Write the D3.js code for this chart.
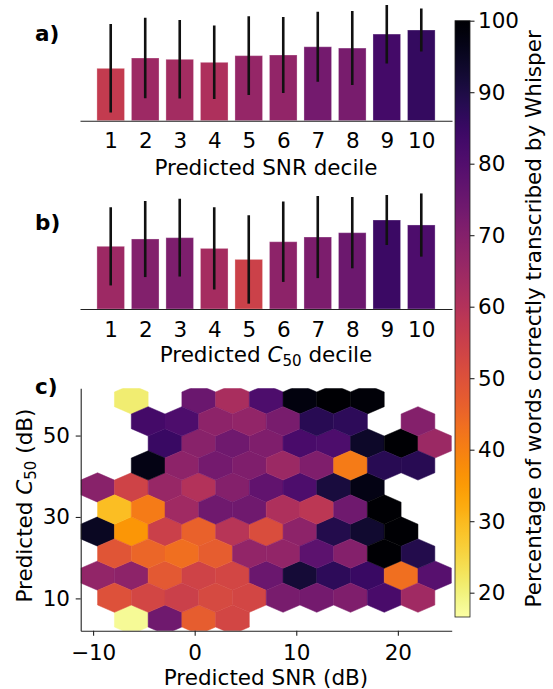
<!DOCTYPE html>
<html>
<head>
<meta charset="utf-8">
<script src="https://cdn.jsdelivr.net/npm/d3@7"></script>
<style>
body{margin:0;background:#fff}
text{font-family:"DejaVu Sans",sans-serif}
</style>
</head>
<body>
<svg id="fig" width="553" height="689"></svg>
<script>
//data
var deciles=[1,2,3,4,5,6,7,8,9,10];
var snrMean=[56.6,64.5,63.5,61.2,66.3,66.8,73.1,72.1,82.8,85.9];
var snrErr=[33.8,30.8,30.0,28.1,30.1,29.0,26.8,28.3,22.5,16.5];
var c50Mean=[64.5,70.1,71.1,62.9,54.5,68.0,71.6,74.9,84.6,80.8];
var c50Err=[29.9,29.1,29.7,31.4,33.8,30.7,31.4,27.2,19.1,24.2];
var barTop=105;

//hexbin: grid extent (dB) and cell means, rows bottom to top
var hexX=[-9.56,23.64], hexY=[4.77,58.9], nx=10, ny=5;
var gridA=[
  [null,18,74,47,53,null,null,null,null,null,null],
  [67,68,48,54,53,75,92,87,85,43,79],
  [95,36,55,46,59,51,68,89,93,100,null],
  [69,54,66,60,70,77,81,91,97,null,null],
  [null,null,85,69,74,71,82,81,94,100,65],
  [null,21,null,75,62,81,98,100,99,null,null]
];
var gridB=[
  [50,53,55,52,53,72,73,71,82,64],
  [49,45,43,47,67,67,78,70,100,89],
  [29,41,64,74,74,61,58,74,100,null],
  [null,97,68,73,71,65,71,41,88,88],
  [null,83,81,68,67,72,88,87,null,70]
];
var xTicks=[-10,0,10,20];
var yTicks=[10,30,50];
var cbTicks=[20,30,40,50,60,70,80,90,100];
var cmin=16.6, cmax=100;

var color=d3.scaleSequential(function(t){return d3.interpolateInferno(1-t);}).domain([cmin,cmax]);
var svg=d3.select("#fig");
var fs=21.5;
var ink="#222";

function styleAxis(g){
    g.selectAll("text").attr("font-size",fs).attr("fill","#000").attr("font-family","DejaVu Sans");
    g.selectAll("line,path").attr("stroke",ink).attr("stroke-width",1.1);
}

function c50Label(t){
    t.append("tspan").text("Predicted ");
    t.append("tspan").attr("font-style","italic").text("C");
    t.append("tspan").attr("font-size",fs*0.7).attr("dy",4).text("50");
    t.append("tspan").attr("dy",-4).text(" decile");
}

function barPanel(id,means,errs,top,bottom,tag,tagY,labelY,labelFn){
    var x=d3.scaleLinear().domain([0.11,10.89]).range([80,452]);
    var y=d3.scaleLinear().domain([cmin,barTop]).range([bottom,top]);
    svg.append("clipPath").attr("id",id).append("rect")
        .attr("x",80).attr("y",top).attr("width",372).attr("height",bottom-top);
    var g=svg.append("g").attr("clip-path","url(#"+id+")");
    g.selectAll("rect.bar").data(deciles).enter().append("rect")
        .attr("class","bar")
        .attr("x",function(d){return x(d-0.4);})
        .attr("width",x(0.8)-x(0))
        .attr("y",function(d,i){return y(means[i]);})
        .attr("height",function(d,i){return y(cmin)-y(means[i]);})
        .attr("fill",function(d,i){return color(means[i]);})
        .attr("stroke","#fff").attr("stroke-opacity",0.3).attr("stroke-width",1);
    g.selectAll("line.err").data(deciles).enter().append("line")
        .attr("x1",function(d){return x(d);}).attr("x2",function(d){return x(d);})
        .attr("y1",function(d,i){return y(means[i]-errs[i]);})
        .attr("y2",function(d,i){return y(means[i]+errs[i]);})
        .attr("stroke","#111").attr("stroke-width",2.6);
    var ax=svg.append("g").attr("transform","translate(0,"+bottom+")")
        .call(d3.axisBottom(x).tickValues(deciles).tickSize(0).tickSizeOuter(0).tickPadding(12.3).tickFormat(d3.format("d")));
    styleAxis(ax);
    svg.append("text").attr("x",35).attr("y",tagY).attr("font-size",fs).attr("font-weight","bold").text(tag);
    var lab=svg.append("text").attr("x",266).attr("y",labelY).attr("font-size",fs).attr("text-anchor","middle");
    labelFn(lab);
}

barPanel("clipA",snrMean,snrErr,5,120.7,"a)",41,175,function(t){t.text("Predicted SNR decile");});
barPanel("clipB",c50Mean,c50Err,193.3,309,"b)",230,362,c50Label);

//panel c: hexbin
var cx0=80.7, cx1=451.7, cy0=388.3, cy1=630.7;
var wx=hexX[1]-hexX[0], wy=hexY[1]-hexY[0];
var xc=d3.scaleLinear().domain([hexX[0]-0.05*wx,hexX[1]+0.05*wx]).range([cx0,cx1]);
var yc=d3.scaleLinear().domain([hexY[0]-0.05*wy,hexY[1]+0.05*wy]).range([cy1,cy0]);
var sx=wx/nx, sy=wy/ny;
var hexOff=[[.5,-.5],[.5,.5],[0,1],[-.5,.5],[-.5,-.5],[0,-1]];
var cells=[];
gridA.forEach(function(row,j){
    row.forEach(function(v,i){ if(v!=null) cells.push({x:hexX[0]+i*sx,y:hexY[0]+j*sy,v:v}); });
});
gridB.forEach(function(row,j){
    row.forEach(function(v,i){ if(v!=null) cells.push({x:hexX[0]+(i+.5)*sx,y:hexY[0]+(j+.5)*sy,v:v}); });
});
svg.append("clipPath").attr("id","clipC").append("rect")
    .attr("x",cx0).attr("y",cy0).attr("width",cx1-cx0).attr("height",cy1-cy0);
svg.append("g").attr("clip-path","url(#clipC)")
    .selectAll("polygon").data(cells).enter().append("polygon")
    .attr("points",function(d){
        return hexOff.map(function(o){return xc(d.x+o[0]*sx)+","+yc(d.y+o[1]*sy/3);}).join(" ");
    })
    .attr("fill",function(d){return color(d.v);})
    .attr("stroke",function(d){return color(d.v);}).attr("stroke-width",0.5);

var axx=svg.append("g").attr("transform","translate(0,"+cy1+")")
    .call(d3.axisBottom(xc).tickValues(xTicks).tickSize(5).tickSizeOuter(0).tickPadding(9).tickFormat(d3.format("d")));
styleAxis(axx);
var axy=svg.append("g").attr("transform","translate("+cx0+",0)")
    .call(d3.axisLeft(yc).tickValues(yTicks).tickSize(5).tickSizeOuter(0).tickPadding(5.7));
styleAxis(axy);
svg.append("text").attr("x",35).attr("y",394).attr("font-size",fs).attr("font-weight","bold").text("c)");
svg.append("text").attr("x",266).attr("y",685).attr("font-size",fs).attr("text-anchor","middle").text("Predicted SNR (dB)");
var yl=svg.append("text").attr("transform","translate(32,"+((cy0+cy1)/2-4)+") rotate(-90)")
    .attr("font-size",fs).attr("text-anchor","middle");
yl.append("tspan").text("Predicted ");
yl.append("tspan").attr("font-style","italic").text("C");
yl.append("tspan").attr("font-size",fs*0.7).attr("dy",4).text("50");
yl.append("tspan").attr("dy",-4).text(" (dB)");

//colorbar
var cbX=455, cbW=15, cbTop=20.7, cbBot=617;
var cb=d3.scaleLinear().domain([cmin,cmax]).range([cbBot,cbTop]);
var grad=svg.append("defs").append("linearGradient").attr("id","cbGrad")
    .attr("x1",0).attr("y1",1).attr("x2",0).attr("y2",0);
d3.range(0,1.0001,0.02).forEach(function(t){
    grad.append("stop").attr("offset",t).attr("stop-color",color(cmin+t*(cmax-cmin)));
});
svg.append("rect").attr("x",cbX).attr("y",cbTop).attr("width",cbW).attr("height",cbBot-cbTop)
    .attr("fill","url(#cbGrad)").attr("stroke",ink).attr("stroke-width",0.8);
var axc=svg.append("g").attr("transform","translate("+(cbX+cbW)+",0)")
    .call(d3.axisRight(cb).tickValues(cbTicks).tickSize(4.5).tickSizeOuter(0).tickPadding(3.5));
axc.select(".domain").remove();
styleAxis(axc);
svg.append("text").attr("transform","translate(541,"+((cbTop+cbBot)/2)+") rotate(-90)")
    .attr("font-size",fs).attr("text-anchor","middle").text("Percentage of words correctly transcribed by Whisper");
</script>
</body>
</html>
